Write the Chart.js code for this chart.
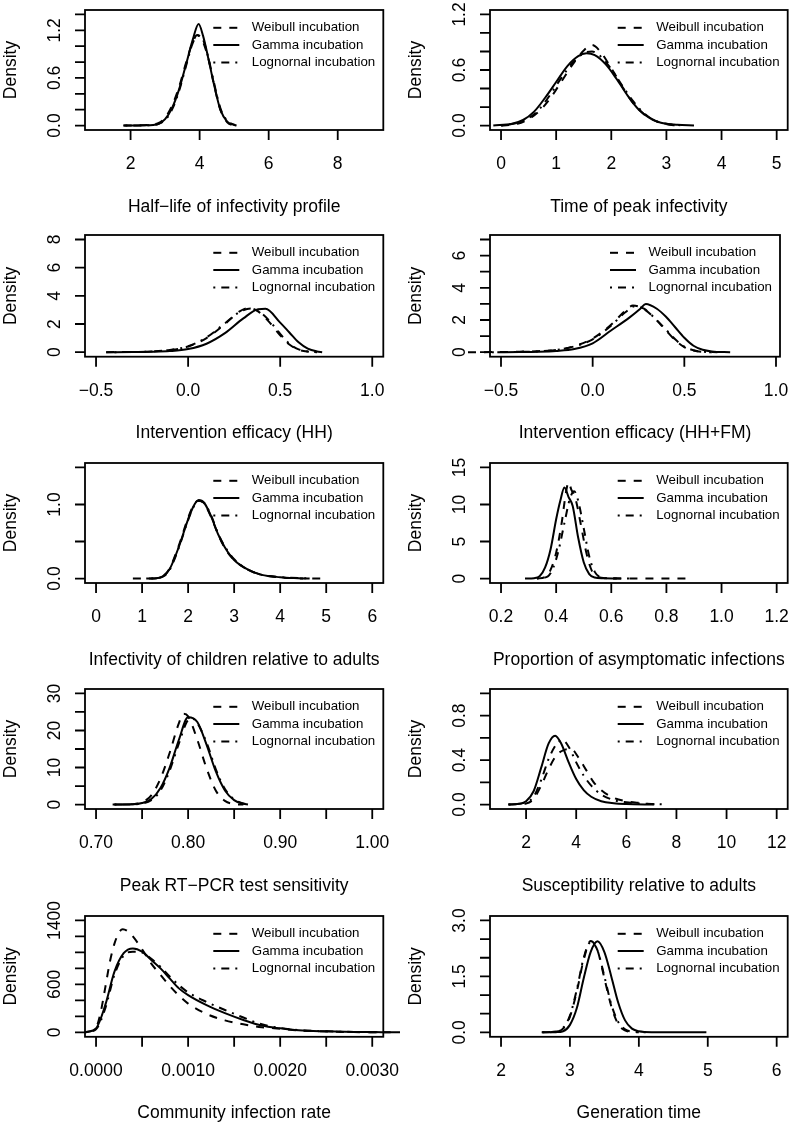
<!DOCTYPE html>
<html>
<head>
<meta charset="utf-8">
<script src="https://cdn.jsdelivr.net/npm/chart.js@4.4.1/dist/chart.umd.min.js"></script>
<style>
  html, body { margin: 0; padding: 0; background: #fff; }
  body { width: 798px; height: 1122px; overflow: hidden; position: relative; }
  canvas { position: absolute; }
</style>
</head>
<body>
<script>
// ---- series as [x, density] ----
const halfLifeWeibull = [[1.8,0],[2.4,0.005],[2.8,0.03],[3.0,0.1],[3.2,0.25],[3.4,0.48],[3.6,0.78],[3.8,1.05],[3.93,1.14],[4.05,1.1],[4.25,0.85],[4.4,0.55],[4.6,0.2],[4.8,0.04],[5.0,0]];
const halfLifeGamma = [[1.79,0],[2.4,0.003],[2.8,0.02],[3.0,0.08],[3.2,0.22],[3.4,0.45],[3.6,0.76],[3.8,1.08],[3.97,1.28],[4.1,1.13],[4.25,0.85],[4.4,0.55],[4.6,0.2],[4.8,0.05],[5.0,0.008],[5.07,0]];
const halfLifeLognormal = [[1.85,0],[2.5,0.004],[2.8,0.02],[3.0,0.07],[3.2,0.2],[3.4,0.43],[3.6,0.74],[3.8,1.04],[3.95,1.13],[4.1,1.08],[4.25,0.86],[4.4,0.57],[4.6,0.22],[4.8,0.06],[5.0,0.01],[5.05,0]];

const peakWeibull = [[0.0,0],[0.3,0.02],[0.5,0.07],[0.7,0.16],[0.9,0.3],[1.1,0.48],[1.3,0.66],[1.5,0.81],[1.65,0.87],[1.8,0.8],[2.0,0.62],[2.2,0.42],[2.4,0.24],[2.6,0.12],[2.8,0.05],[3.0,0.015],[3.2,0]];
const peakGamma = [[-0.14,0],[0.2,0.02],[0.4,0.06],[0.6,0.15],[0.8,0.3],[1.0,0.47],[1.2,0.64],[1.4,0.75],[1.55,0.78],[1.7,0.76],[1.9,0.66],[2.1,0.5],[2.3,0.32],[2.5,0.17],[2.7,0.08],[2.9,0.03],[3.2,0.008],[3.5,0]];
const peakLognormal = [[0.0,0],[0.3,0.03],[0.5,0.08],[0.7,0.18],[0.9,0.34],[1.1,0.52],[1.3,0.68],[1.5,0.78],[1.65,0.8],[1.8,0.75],[2.0,0.61],[2.2,0.43],[2.4,0.26],[2.6,0.13],[2.8,0.05],[3.0,0.02],[3.3,0]];

const effHHWeibull = [[-0.445,0],[-0.2,0.05],[-0.1,0.15],[0.0,0.4],[0.1,1.0],[0.2,2.0],[0.28,2.9],[0.33,3.15],[0.38,2.9],[0.45,2.0],[0.5,1.2],[0.55,0.55],[0.6,0.18],[0.65,0.04],[0.7,0]];
const effHHGamma = [[-0.445,0],[-0.3,0.01],[-0.2,0.03],[-0.1,0.08],[0.0,0.22],[0.1,0.6],[0.2,1.35],[0.3,2.4],[0.38,3.05],[0.42,3.08],[0.5,2.1],[0.55,1.4],[0.6,0.7],[0.65,0.25],[0.7,0.05],[0.728,0]];
const effHHLognormal = [[-0.4,0],[-0.2,0.05],[-0.1,0.16],[0.0,0.42],[0.1,1.05],[0.2,2.05],[0.28,2.85],[0.34,3.1],[0.4,2.75],[0.45,2.1],[0.5,1.3],[0.55,0.6],[0.6,0.2],[0.65,0.05],[0.7,0]];

const effFMWeibull = [[-0.68,0],[-0.5,0.01],[-0.4,0.03],[-0.3,0.06],[-0.2,0.14],[-0.1,0.38],[0.0,0.85],[0.1,1.7],[0.18,2.6],[0.22,2.9],[0.27,2.75],[0.33,2.2],[0.4,1.35],[0.45,0.75],[0.5,0.32],[0.55,0.1],[0.6,0.02],[0.65,0]];
const effFMGamma = [[-0.52,0],[-0.4,0.01],[-0.3,0.03],[-0.2,0.08],[-0.1,0.2],[0.0,0.55],[0.1,1.35],[0.2,2.15],[0.26,2.7],[0.29,3.0],[0.35,2.7],[0.4,2.2],[0.45,1.55],[0.5,0.9],[0.55,0.4],[0.6,0.15],[0.65,0.05],[0.75,0]];
const effFMLognormal = [[-0.55,0],[-0.3,0.05],[-0.2,0.13],[-0.1,0.36],[0.0,0.8],[0.1,1.65],[0.18,2.5],[0.23,2.85],[0.28,2.7],[0.34,2.1],[0.4,1.4],[0.45,0.8],[0.5,0.35],[0.55,0.12],[0.6,0.03],[0.68,0]];

const childInfWeibull = [[0.8,0],[1.2,0.002],[1.45,0.03],[1.6,0.14],[1.8,0.45],[2.0,0.82],[2.12,0.99],[2.22,1.05],[2.35,1.01],[2.5,0.83],[2.65,0.6],[2.8,0.41],[3.0,0.25],[3.3,0.12],[3.6,0.05],[4.0,0.016],[4.3,0.005],[4.5,0]];
const childInfGamma = [[1.09,0],[1.3,0.003],[1.45,0.03],[1.6,0.13],[1.8,0.43],[2.0,0.8],[2.12,0.98],[2.23,1.06],[2.35,1.02],[2.5,0.84],[2.65,0.6],[2.8,0.42],[3.0,0.25],[3.3,0.12],[3.6,0.05],[4.0,0.018],[4.3,0.006],[4.64,0]];
const childInfLognormal = [[1.2,0],[1.45,0.025],[1.6,0.12],[1.8,0.42],[2.0,0.79],[2.12,0.97],[2.24,1.05],[2.35,1.02],[2.5,0.85],[2.65,0.61],[2.8,0.43],[3.0,0.26],[3.3,0.12],[3.6,0.05],[4.0,0.02],[4.5,0.005],[4.93,0]];

const asympWeibull = [[0.33,0],[0.36,0.2],[0.38,1.2],[0.40,3.5],[0.42,7.5],[0.435,11.5],[0.445,13.0],[0.455,12.0],[0.47,10.8],[0.49,7.2],[0.51,3.4],[0.53,1.0],[0.55,0.2],[0.6,0.03],[0.7,0.01],[0.87,0]];
const asympGamma = [[0.287,0],[0.32,0.05],[0.34,0.3],[0.36,1.5],[0.38,4.0],[0.40,8.0],[0.415,10.5],[0.43,12.3],[0.445,11.0],[0.46,9.8],[0.48,5.5],[0.50,2.2],[0.52,0.6],[0.54,0.15],[0.57,0.03],[0.62,0]];
const asympLognormal = [[0.33,0],[0.37,0.3],[0.39,1.5],[0.41,4.0],[0.43,7.5],[0.45,10.8],[0.465,11.8],[0.48,10.5],[0.50,6.8],[0.52,3.0],[0.54,0.9],[0.56,0.2],[0.6,0.03],[0.67,0]];

const pcrWeibull = [[0.72,0],[0.74,0.1],[0.75,0.6],[0.76,2.5],[0.77,7],[0.78,14],[0.79,22],[0.795,24.5],[0.80,23.8],[0.81,17.5],[0.82,9.8],[0.83,3.8],[0.84,1.0],[0.85,0.15],[0.86,0]];
const pcrGamma = [[0.718,0],[0.74,0.05],[0.75,0.4],[0.76,1.5],[0.77,4.5],[0.78,10],[0.79,17.5],[0.80,23.6],[0.81,22.3],[0.82,16.2],[0.83,9.0],[0.84,3.8],[0.85,1.2],[0.86,0.2],[0.865,0]];
const pcrLognormal = [[0.72,0],[0.74,0.05],[0.75,0.3],[0.76,1.2],[0.77,3.8],[0.78,9.2],[0.79,16.5],[0.80,22.8],[0.805,23.2],[0.81,22],[0.82,16.8],[0.83,9.6],[0.84,4.2],[0.85,1.4],[0.86,0.3],[0.865,0]];

const suscWeibull = [[1.3,0],[2.0,0.01],[2.3,0.05],[2.6,0.17],[2.9,0.32],[3.2,0.44],[3.5,0.49],[3.8,0.5],[4.1,0.42],[4.4,0.31],[4.7,0.2],[5.0,0.13],[5.5,0.06],[6.0,0.03],[6.5,0.015],[7.0,0.005],[7.4,0]];
const suscGamma = [[1.29,0],[1.8,0.01],[2.0,0.03],[2.3,0.12],[2.6,0.33],[2.9,0.55],[3.16,0.62],[3.4,0.55],[3.7,0.38],[4.0,0.23],[4.3,0.13],[4.6,0.07],[5.0,0.03],[5.5,0.012],[6.0,0.005],[7.1,0]];
const suscLognormal = [[1.3,0],[2.0,0.02],[2.3,0.07],[2.6,0.22],[2.9,0.41],[3.2,0.54],[3.45,0.58],[3.7,0.52],[4.0,0.38],[4.3,0.26],[4.6,0.17],[5.0,0.09],[5.5,0.04],[6.0,0.02],[6.5,0.01],[7.0,0.005],[7.63,0]];

const commWeibull = [[-0.00012,0],[0,60],[0.00005,250],[0.0001,560],[0.00015,880],[0.0002,1110],[0.00025,1250],[0.00029,1290],[0.00035,1260],[0.0004,1200],[0.0005,1040],[0.0006,860],[0.0007,720],[0.0008,580],[0.0009,460],[0.0010,360],[0.0012,230],[0.0014,150],[0.0016,100],[0.0018,65],[0.0020,45],[0.0022,25],[0.0025,10],[0.0028,3],[0.0032,0]];
const commGamma = [[-0.00012,0],[0,50],[0.0001,340],[0.0002,760],[0.0003,990],[0.0004,1050],[0.0005,1010],[0.0006,905],[0.0007,800],[0.0008,675],[0.0009,550],[0.0010,465],[0.0012,340],[0.0014,240],[0.0016,155],[0.0018,85],[0.0020,50],[0.0022,25],[0.0025,12],[0.0028,5],[0.0031,2],[0.00335,0]];
const commLognormal = [[-0.00012,0],[0,40],[0.0001,300],[0.0002,720],[0.0003,960],[0.0004,1010],[0.0005,1000],[0.0006,920],[0.0007,820],[0.0008,700],[0.0009,590],[0.0010,500],[0.0012,380],[0.0014,280],[0.0016,185],[0.0018,100],[0.0020,55],[0.0022,28],[0.0025,12],[0.0028,5],[0.0031,0]];

const genWeibull = [[2.6,0],[2.8,0.02],[2.9,0.1],[3.0,0.42],[3.1,1.1],[3.2,1.95],[3.3,2.45],[3.4,2.2],[3.5,1.45],[3.6,0.7],[3.7,0.22],[3.8,0.05],[3.9,0.01],[4.0,0]];
const genGamma = [[2.59,0],[2.8,0.005],[2.9,0.03],[3.0,0.2],[3.1,0.65],[3.2,1.45],[3.3,2.15],[3.4,2.44],[3.5,2.15],[3.6,1.5],[3.7,0.8],[3.8,0.32],[3.9,0.1],[4.0,0.03],[4.2,0.005],[4.98,0]];
const genLognormal = [[2.6,0],[2.8,0.02],[2.9,0.12],[3.0,0.45],[3.1,1.15],[3.2,2.0],[3.3,2.42],[3.4,2.2],[3.5,1.5],[3.6,0.75],[3.7,0.28],[3.8,0.08],[3.9,0.02],[4.1,0]];

// ---- titles, ticks and tick labels ----
const seriesNames = ['Weibull incubation', 'Gamma incubation', 'Lognornal incubation'];
const xTitles = ['Half\u2212life of infectivity profile', 'Time of peak infectivity',
  'Intervention efficacy (HH)', 'Intervention efficacy (HH+FM)',
  'Infectivity of children relative to adults', 'Proportion of asymptomatic infections',
  'Peak RT\u2212PCR test sensitivity', 'Susceptibility relative to adults',
  'Community infection rate', 'Generation time'];
const xTicks = [[2,4,6,8],[0,1,2,3,4,5],[-0.5,0,0.5,1],[-0.5,0,0.5,1],[0,1,2,3,4,5,6],
  [0.2,0.4,0.6,0.8,1.0,1.2],[0.7,0.75,0.8,0.85,0.9,0.95,1.0],[2,4,6,8,10,12],
  [0,0.0005,0.001,0.0015,0.002,0.0025,0.003],[2,3,4,5,6]];
const xTickLabels = [['2','4','6','8'],['0','1','2','3','4','5'],
  ['\u22120.5','0.0','0.5','1.0'],['\u22120.5','0.0','0.5','1.0'],['0','1','2','3','4','5','6'],
  ['0.2','0.4','0.6','0.8','1.0','1.2'],['0.70','0.80','0.90','1.00'],['2','4','6','8','10','12'],
  ['0.0000','0.0010','0.0020','0.0030'],['2','3','4','5','6']];
const yTicks = [[0,0.2,0.4,0.6,0.8,1.0,1.2,1.4],[0,0.2,0.4,0.6,0.8,1.0,1.2],[0,2,4,6,8],
  [0,1,2,3,4,5,6,7],[0,0.5,1.0,1.5],[0,5,10,15],[0,5,10,15,20,25,30],[0,0.2,0.4,0.6,0.8,1.0],
  [0,200,400,600,800,1000,1200,1400],[0,0.5,1.0,1.5,2.0,2.5,3.0]];
const yTickLabels = [['0.0','0.6','1.2'],['0.0','0.6','1.2'],['0','2','4','6','8'],
  ['0','2','4','6'],['0.0','1.0'],['0','5','10','15'],['0','10','20','30'],['0.0','0.4','0.8'],
  ['0','600','1400'],['0.0','1.5','3.0']];
const xLimits = [[1,9],[0,5],[-0.5,1.0],[-0.5,1.0],[0,6],[0.2,1.2],[0.7,1.0],[1,12],[0,0.003],[2,6]];
const yLimits = [[0,1.4],[0,1.2],[0,8],[0,7],[0,1.5],[0,15],[0,30],[0,1.0],[0,1400],[0,3.0]];

const panelSeries = [
  [halfLifeWeibull, halfLifeGamma, halfLifeLognormal],
  [peakWeibull, peakGamma, peakLognormal],
  [effHHWeibull, effHHGamma, effHHLognormal],
  [effFMWeibull, effFMGamma, effFMLognormal],
  [childInfWeibull, childInfGamma, childInfLognormal],
  [asympWeibull, asympGamma, asympLognormal],
  [pcrWeibull, pcrGamma, pcrLognormal],
  [suscWeibull, suscGamma, suscLognormal],
  [commWeibull, commGamma, commLognormal],
  [genWeibull, genGamma, genLognormal]
];

// ---- page layout (plot boxes in page pixels) ----
const rowBox = [[10, 130], [235, 356.7], [463.3, 583.3], [689.3, 809.3], [915.7, 1036.5]];
const colBox = [[85, 383.3], [490, 787.7]];
const FONT = '"Liberation Sans", Arial, Helvetica, sans-serif';
const DASHES = [[8, 8], [], [2, 6, 8, 6]];

function axisPlugin(i) {
  return {
    id: 'rAxes' + i,
    afterDraw(chart) {
      const { ctx, chartArea: a, scales: { x, y } } = chart;
      ctx.save();
      ctx.strokeStyle = '#000';
      ctx.fillStyle = '#000';
      ctx.lineWidth = 1.8;
      ctx.setLineDash([]);
      ctx.strokeRect(a.left, a.top, a.right - a.left, a.bottom - a.top);

      ctx.beginPath();
      xTicks[i].forEach(v => {
        const px = x.getPixelForValue(v);
        ctx.moveTo(px, a.bottom); ctx.lineTo(px, a.bottom + 10);
      });
      yTicks[i].forEach(v => {
        const py = y.getPixelForValue(v);
        ctx.moveTo(a.left - 10, py); ctx.lineTo(a.left, py);
      });
      ctx.stroke();

      ctx.font = '17.5px ' + FONT;
      ctx.textAlign = 'center';
      ctx.textBaseline = 'alphabetic';
      xTickLabels[i].forEach(s => {
        const v = parseFloat(s.replace('\u2212', '-'));
        ctx.fillText(s, x.getPixelForValue(v), a.bottom + 39);
      });
      ctx.fillText(xTitles[i], (a.left + a.right) / 2, a.bottom + 81.5);

      yTickLabels[i].forEach(s => {
        const v = parseFloat(s);
        ctx.save();
        ctx.translate(a.left - 25, y.getPixelForValue(v));
        ctx.rotate(-Math.PI / 2);
        ctx.fillText(s, 0, 0);
        ctx.restore();
      });
      ctx.save();
      ctx.translate(a.left - 69.5, (a.top + a.bottom) / 2);
      ctx.rotate(-Math.PI / 2);
      ctx.fillText('Density', 0, 0);
      ctx.restore();

      // legend, top right inside the box
      ctx.font = '13.3px ' + FONT;
      ctx.textAlign = 'left';
      ctx.textBaseline = 'middle';
      const rows = [17.8, 35, 52.5];
      seriesNames.forEach((name, k) => {
        const ly = a.top + rows[k];
        ctx.lineWidth = 2;
        ctx.setLineDash(DASHES[k]);
        ctx.beginPath();
        ctx.moveTo(a.right - 170, ly); ctx.lineTo(a.right - 144, ly);
        ctx.stroke();
        ctx.setLineDash([]);
        ctx.fillText(name, a.right - 131.5, ly);
      });
      ctx.restore();
    }
  };
}

panelSeries.forEach((series, i) => {
  const col = i % 2, row = Math.floor(i / 2);
  const [T, B] = rowBox[row];
  let [L, R] = colBox[col];
  if (i === 3) R = 780;
  const cLeft = col === 0 ? 0 : 400;
  const cWidth = col === 0 ? 400 : 398;
  const cTop = Math.max(0, T - 24);
  const cHeight = 236;

  const canvas = document.createElement('canvas');
  canvas.width = cWidth;
  canvas.height = cHeight;
  canvas.style.left = cLeft + 'px';
  canvas.style.top = cTop + 'px';
  document.body.appendChild(canvas);

  const [x0, x1] = xLimits[i];
  const [y0, y1] = yLimits[i];
  const xr = (x1 - x0) * 0.04, yr = (y1 - y0) * 0.04;
  const xMin = x0 - xr;
  let xMax = x1 + xr;
  // this panel's box ends only ~4px past its last tick
  if (i === 3) xMax = xMin + (x1 - xMin) * (R - L) / (R - L - 4);

  new Chart(canvas, {
    type: 'line',
    data: {
      datasets: series.map((pts, k) => ({
        label: seriesNames[k],
        data: pts.map(p => ({ x: p[0], y: p[1] })),
        borderColor: '#000',
        borderWidth: 2,
        borderDash: DASHES[k],
        pointRadius: 0,
        fill: false,
        cubicInterpolationMode: 'monotone',
        clip: false
      }))
    },
    options: {
      responsive: false,
      animation: false,
      events: [],
      layout: {
        padding: {
          left: L - cLeft,
          right: cWidth - (R - cLeft),
          top: T - cTop,
          bottom: cHeight - (T - cTop) - (B - T)
        }
      },
      plugins: { legend: { display: false }, tooltip: { enabled: false } },
      scales: {
        x: { type: 'linear', min: xMin, max: xMax, display: false },
        y: { type: 'linear', min: y0 - yr, max: y1 + yr, display: false }
      }
    },
    plugins: [axisPlugin(i)]
  });
});
</script>
</body>
</html>
